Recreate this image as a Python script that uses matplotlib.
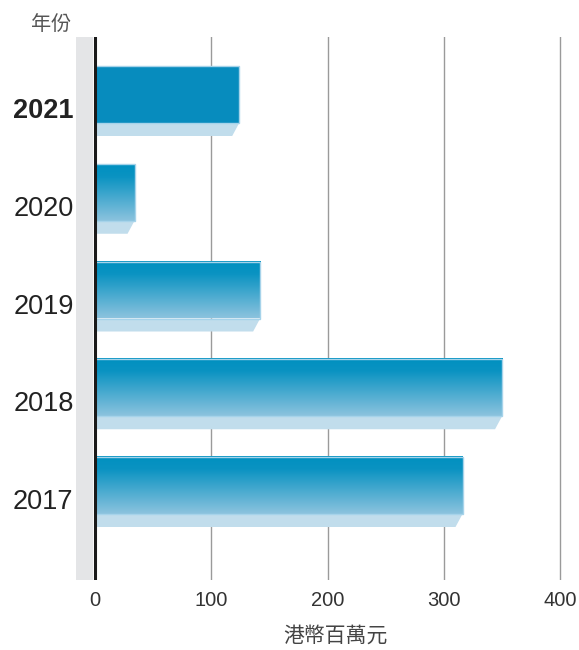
import matplotlib
matplotlib.use("Agg")
import matplotlib.pyplot as plt
import numpy as np
from matplotlib.patches import Polygon, Rectangle
from matplotlib.colors import LinearSegmentedColormap
from matplotlib.transforms import ScaledTranslation

years = ["2021", "2020", "2019", "2018", "2017"]
values = [124, 34, 142, 350, 316]
xticks = [0, 100, 200, 300, 400]
xlabel = "港幣百萬元"
ylabel = "年份"

plt.rcParams['font.family'] = ['Liberation Sans', 'Noto Sans CJK TC', 'DejaVu Sans']

W, H = 579, 650
fig = plt.figure(figsize=(W / 100, H / 100), dpi=100)

px_per_unit = 116.3 / 100.0
x0_px = 95
xmin, xmax = -16, 405
left_px = x0_px + xmin * px_per_unit
right_px = x0_px + xmax * px_per_unit
top_px, bot_px = 37, 580
ax = fig.add_axes([left_px / W, 1 - bot_px / H, (right_px - left_px) / W, (bot_px - top_px) / H])

spacing_px = 97.75

for s in ax.spines.values():
    s.set_visible(False)

# gray band and gridlines
ax.add_patch(Rectangle((xmin, -5), -xmin - 1.5, 20, color="#e4e5e7", zorder=0, lw=0))
for t in xticks[1:]:
    ax.axvline(t, color="#9a9a9a", lw=1.0, zorder=1)
ax.axvline(0, color="#1a1a1a", lw=2.2, zorder=5)

face_h = 57 / spacing_px
shad_h = 13 / spacing_px
slant = 7 / px_per_unit

cmap = LinearSegmentedColormap.from_list(
    "g", [(0, "#0090c0"), (0.22, "#0a93c2"), (1.0, "#8cc3de")])
grad = np.linspace(0, 1, 256).reshape(-1, 1)

for i, (yr, v) in enumerate(zip(years, values)):
    top = i - 0.5 * (face_h + shad_h)
    mid = top + face_h
    bot = mid + shad_h
    ax.add_patch(Polygon([(0, mid), (v, mid), (v - slant, bot), (0, bot)],
                         closed=True, facecolor="#c1ddec", edgecolor="none", zorder=2))
    if i == 0:
        ax.add_patch(Rectangle((0, top), v, face_h, facecolor="#078cbe",
                               edgecolor="#a6d3ea", lw=1.0, zorder=3))
    else:
        ax.imshow(grad, cmap=cmap, extent=[0, v, mid, top], aspect="auto",
                  interpolation="bilinear", zorder=3)
        ax.add_patch(Rectangle((0, top), v, face_h, facecolor="none",
                               edgecolor="#a6d3ea", lw=1.0, zorder=4))

ax.set_xlim(xmin, xmax)
ax.set_ylim(4 + 88 / spacing_px, -64 / spacing_px)

ax.set_xticks(xticks)
ax.set_xticklabels([str(t) for t in xticks], fontsize=14.5, color="#333333")
ax.tick_params(axis="x", length=0, pad=8)
ax.set_yticks(range(len(years)))
ax.set_yticklabels(years, fontsize=19.5, color="#222222")
ax.get_yticklabels()[0].set_fontweight("bold")
ax.tick_params(axis="y", length=0, pad=2)
off = ScaledTranslation(0, -7 / 100, fig.dpi_scale_trans)
for lab in ax.get_yticklabels():
    lab.set_transform(lab.get_transform() + off)

fig.text(335 / W, 1 - 636 / H, xlabel, fontsize=15, color="#444444",
         ha="center", va="center", family=["Noto Sans CJK TC", "DejaVu Sans"])
fig.text(51 / W, 1 - 24 / H, ylabel, fontsize=14.5, color="#555555",
         ha="center", va="center", family=["Noto Sans CJK TC", "DejaVu Sans"])

fig.savefig("out.png", dpi=100)
